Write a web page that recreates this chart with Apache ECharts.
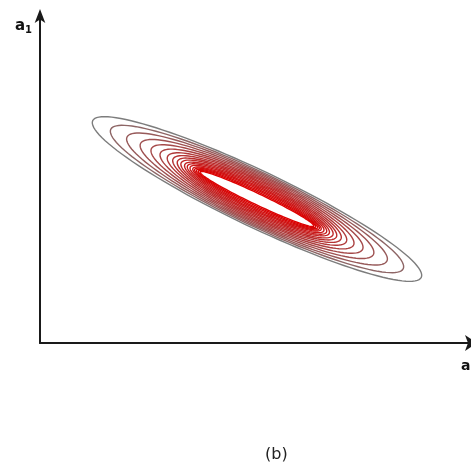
<!DOCTYPE html>
<html>
<head>
<meta charset="utf-8">
<script src="https://cdn.jsdelivr.net/npm/echarts@6/dist/echarts.min.js"></script>
<style>
  html, body { margin: 0; padding: 0; background: #fff; }
  #chart { width: 471px; height: 474px; }
</style>
</head>
<body>
<div id="chart"></div>
<script>
// contour ellipses, outermost first (axis units)
const semiMajor = [18.2, 16.2, 14.4, 12.9, 11.7, 10.7, 9.9, 9.3, 8.8, 8.4, 8.0, 7.7, 7.4, 7.1, 6.9, 6.7, 6.5, 6.3]
const semiMinor = [2.8, 2.64, 2.5, 2.37, 2.24, 2.11, 1.98, 1.85, 1.72, 1.59, 1.46, 1.33, 1.2, 1.07, 0.94, 0.81, 0.68, 0.55]
const center = [21.7, 14.4]
const tiltDeg = 25.5
const xRange = [0, 43.1]
const yRange = [0, 32.7]

const levels = semiMajor.map((a, i) => [center[0], center[1], a, semiMinor[i], i])

const levelColor = (i) => {
  const f = Math.pow(i / (levels.length - 1), 0.6)
  const r = Math.round(125 + (220 - 125) * f)
  const g = Math.round(125 * (1 - f))
  return `rgb(${r},${g},${g})`
}

const chart = echarts.init(document.getElementById('chart'))

chart.setOption({
  animation: false,
  grid: { left: 40, right: 0, top: 16, bottom: 131 },
  xAxis: {
    type: 'value', min: xRange[0], max: xRange[1],
    axisLine: {
      show: true, lineStyle: { color: '#1a1a1a', width: 2 },
      symbol: ['none', 'arrow'], symbolSize: [12, 12], symbolOffset: [0, 6]
    },
    axisTick: { show: false }, axisLabel: { show: false }, splitLine: { show: false }
  },
  yAxis: {
    type: 'value', min: yRange[0], max: yRange[1],
    axisLine: {
      show: true, lineStyle: { color: '#1a1a1a', width: 2 },
      symbol: ['none', 'arrow'], symbolSize: [8, 14], symbolOffset: [0, 7]
    },
    axisTick: { show: false }, axisLabel: { show: false }, splitLine: { show: false }
  },
  graphic: [
    {
      type: 'text', left: 15, top: 19,
      style: {
        text: '{a|a}{s|1}',
        rich: {
          a: { fontSize: 15, fontWeight: 'bold', fill: '#111', fontFamily: 'DejaVu Sans' },
          s: { fontSize: 10, fontWeight: 'bold', fill: '#111', fontFamily: 'DejaVu Sans', padding: [7, 0, 0, 0] }
        }
      }
    },
    {
      type: 'text', left: 461, top: 359,
      style: { text: 'a', fontSize: 14, fontWeight: 'bold', fill: '#111', fontFamily: 'DejaVu Sans' }
    },
    {
      type: 'text', left: 265, top: 447,
      style: { text: '(b)', fontSize: 16, fill: '#222', fontFamily: 'DejaVu Sans' }
    }
  ],
  series: [{
    type: 'custom',
    coordinateSystem: 'cartesian2d',
    data: levels,
    renderItem: (params, api) => {
      const cx = api.value(0), cy = api.value(1)
      const a = api.value(2), b = api.value(3)
      const idx = api.value(4)
      const th = tiltDeg * Math.PI / 180
      const ux = Math.cos(th), uy = -Math.sin(th)
      const vx = Math.sin(th), vy = Math.cos(th)
      const pts = []
      for (let k = 0; k < 120; k++) {
        const t = k / 120 * Math.PI * 2
        const px = cx + a * Math.cos(t) * ux + b * Math.sin(t) * vx
        const py = cy + a * Math.cos(t) * uy + b * Math.sin(t) * vy
        pts.push(api.coord([px, py]))
      }
      return {
        type: 'polygon',
        shape: { points: pts },
        style: { fill: 'none', stroke: levelColor(idx), lineWidth: 1.4 }
      }
    }
  }]
})
</script>
</body>
</html>
